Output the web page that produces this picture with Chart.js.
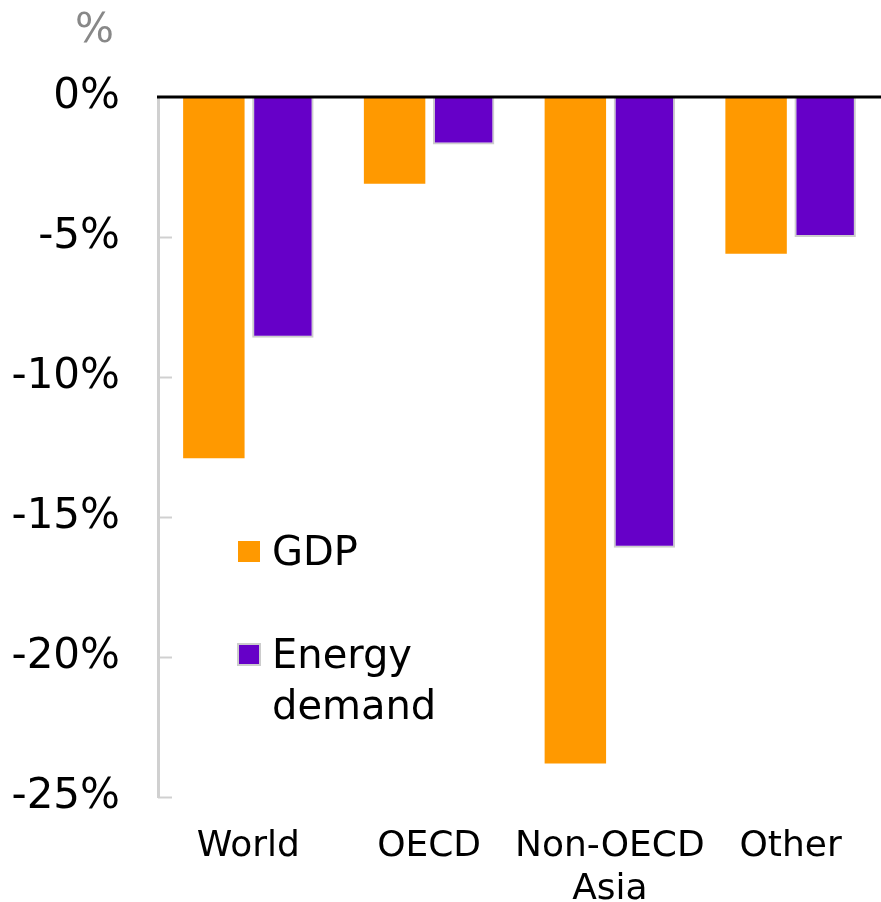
<!DOCTYPE html>
<html>
<head>
<meta charset="utf-8">
<script src="https://cdn.jsdelivr.net/npm/chart.js@4/dist/chart.umd.min.js"></script>
<style>
  html, body { margin: 0; padding: 0; background: #ffffff; }
  #wrap { width: 881px; height: 902px; position: relative; }
</style>
</head>
<body>
<div id="wrap"><canvas id="chart" width="881" height="902"></canvas></div>
<script>
// 類別與數據
const categories = [["World"], ["OECD"], ["Non-OECD", "Asia"], ["Other"]];
const gdpValues = [-12.9, -3.1, -23.8, -5.6];
const energyValues = [-8.6, -1.7, -16.1, -5.0];
const yTicks = [0, -5, -10, -15, -20, -25];

const FONT = "'DejaVu Sans', sans-serif";

// 零線、內向刻度、單位標題、圖例
const decor = {
  id: "decor",
  afterDatasetsDraw(chart) {
    const { ctx, chartArea, scales } = chart;
    const y = scales.y;
    ctx.save();
    // 內向刻度
    ctx.strokeStyle = "#d0d0d0";
    ctx.lineWidth = 2;
    yTicks.forEach(v => {
      if (v === 0) return;
      const py = Math.round(y.getPixelForValue(v)) + 0.5;
      ctx.beginPath();
      ctx.moveTo(chartArea.left, py);
      ctx.lineTo(chartArea.left + 14, py);
      ctx.stroke();
    });
    // 零線
    const zy = y.getPixelForValue(0);
    ctx.strokeStyle = "#000000";
    ctx.lineWidth = 3;
    ctx.beginPath();
    ctx.moveTo(chartArea.left - 1, zy);
    ctx.lineTo(chartArea.right, zy);
    ctx.stroke();
    // 單位
    ctx.fillStyle = "#888888";
    ctx.font = "41px " + FONT;
    ctx.textAlign = "right";
    ctx.textBaseline = "alphabetic";
    ctx.fillText("%", 114, 42);
    // 圖例
    ctx.textAlign = "left";
    const ds = chart.data.datasets;
    const rows = [{ y: 551, lines: ["GDP"] }, { y: 654, lines: ["Energy", "demand"] }];
    rows.forEach((r, i) => {
      const d = ds[i];
      ctx.fillStyle = d.backgroundColor;
      ctx.fillRect(238, r.y - 10, 22, 21);
      if (d.borderWidth) {
        ctx.strokeStyle = d.borderColor;
        ctx.lineWidth = 2;
        ctx.strokeRect(238, r.y - 10, 22, 21);
      }
      ctx.fillStyle = "#000000";
      ctx.font = "40px " + FONT;
      r.lines.forEach((t, j) => ctx.fillText(t, 272, r.y + 14 + j * 51));
    });
    ctx.restore();
  }
};

new Chart(document.getElementById("chart"), {
  type: "bar",
  data: {
    labels: categories,
    datasets: [
      {
        label: "GDP",
        data: gdpValues,
        backgroundColor: "#ff9900",
        borderWidth: 0,
      },
      {
        label: "Energy demand",
        data: energyValues,
        backgroundColor: "#6600c8",
        borderColor: "#cccccc",
        borderWidth: 2,
      },
    ],
  },
  options: {
    responsive: false,
    animation: false,
    layout: { padding: { top: 97, right: 0, left: 0, bottom: 0 } },
    datasets: { bar: { categoryPercentage: 0.764, barPercentage: 0.89 } },
    plugins: { legend: { display: false }, tooltip: { enabled: false } },
    scales: {
      x: {
        grid: { display: false },
        border: { display: false },
        ticks: {
          color: "#000000",
          font: { family: FONT, size: 36, lineHeight: 1.2 },
          padding: 20,
          maxRotation: 0,
          autoSkip: false,
        },
        afterFit(scale) { scale.height = 105; },
      },
      y: {
        min: -25,
        max: 0,
        afterBuildTicks(scale) { scale.ticks = yTicks.map(v => ({ value: v })); },
        grid: { display: false, drawTicks: false },
        border: { display: true, color: "#d0d0d0", width: 3 },
        ticks: {
          color: "#000000",
          font: { family: FONT, size: 42 },
          padding: 38,
          callback: v => v + "%",
        },
        afterFit(scale) { scale.width = 158; },
      },
    },
  },
  plugins: [decor],
});
</script>
</body>
</html>
